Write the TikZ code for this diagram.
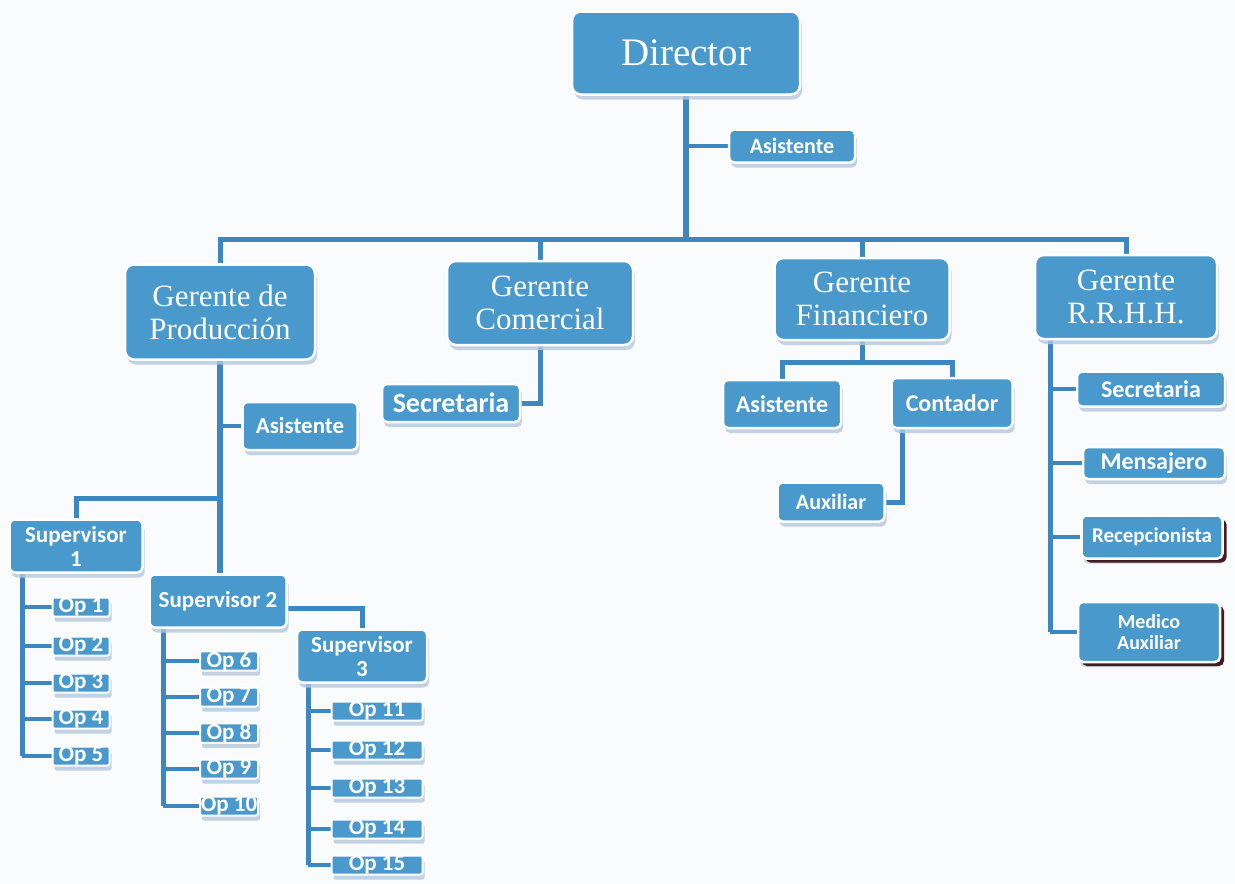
\documentclass[tikz,border=0pt]{standalone}
\usepackage{fontspec}
\setmainfont{Liberation Serif}
\newfontfamily\carl{Carlito}
\usetikzlibrary{shadows,backgrounds,calc}
\definecolor{boxblue}{RGB}{74,153,205}
\definecolor{lineblue}{RGB}{62,134,192}
\definecolor{shadecol}{RGB}{180,200,220}
\definecolor{darksh}{RGB}{70,25,35}
\definecolor{bgcol}{RGB}{250,251,253}
\tikzset{
 box/.style={fill=boxblue, draw=white, line width=2.5pt, text=white, align=center, inner sep=0pt,
   drop shadow={shadow xshift=2pt, shadow yshift=-5pt, fill=shadecol, opacity=0.8}},
 big/.style={box, rounded corners=9pt, font=\fontsize{31}{33}\selectfont},
 small/.style={box, rounded corners=5pt, font=\carl\bfseries\fontsize{23}{24}\selectfont},
 opbox/.style={box, rounded corners=2pt, line width=2pt, font=\carl\bfseries\fontsize{23}{23}\selectfont},
 darkbox/.style={small, drop shadow={shadow xshift=4pt, shadow yshift=-4pt, fill=darksh, opacity=1}},
 conn/.style={draw=lineblue, line width=5pt},
 trunk/.style={draw=lineblue, line width=6.5pt},
 thinconn/.style={draw=lineblue, line width=3.5pt},
}
\begin{document}
\begin{tikzpicture}[x=1pt,y=-1pt]
\useasboundingbox (0,0) rectangle (1235,884);
% top
\node[big, minimum width=228pt, minimum height=83pt, font=\fontsize{39}{40}\selectfont] (dir) at (686,53) {Director};
\node[small, minimum width=126pt, minimum height=33pt, font=\carl\bfseries\fontsize{22}{22}\selectfont] (at) at (792,146) {Asistente};
% managers
\node[big, minimum width=190pt, minimum height=95pt] (gp) at (220,312) {Gerente de\\Producción};
\node[big, minimum width=186pt, minimum height=84pt] (gc) at (540,303) {Gerente\\Comercial};
\node[big, minimum width=175pt, minimum height=82pt] (gf) at (862,299) {Gerente\\Financiero};
\node[big, minimum width=182pt, minimum height=84pt] (gr) at (1126,297) {Gerente\\R.R.H.H.};
% production
\node[small, minimum width=115pt, minimum height=48pt] (ap) at (300,426) {Asistente};
\node[small, minimum width=133pt, minimum height=53pt] (s1) at (76,546) {Supervisor\\1};
\node[small, minimum width=137pt, minimum height=53pt] (s2) at (218,601) {Supervisor 2};
\node[small, minimum width=130pt, minimum height=53pt] (s3) at (362,656) {Supervisor\\3};
\foreach \n/\y in {1/607,2/646,3/683,4/719,5/756}
  \node[opbox, minimum width=57pt, minimum height=19pt] (o\n) at (81,\y) {Op \n};
\foreach \n/\y in {6/661,7/697,8/733,9/769,10/806}
  \node[opbox, minimum width=58pt, minimum height=19pt] (o\n) at (229,\y) {Op \n};
\foreach \n/\y in {11/711,12/750,13/788,14/829,15/865}
  \node[opbox, minimum width=91pt, minimum height=19pt] (o\n) at (377,\y) {Op \n};
% commercial
\node[small, minimum width=138pt, minimum height=38pt, font=\carl\bfseries\fontsize{28}{28}\selectfont] (sc) at (451,403) {Secretaria};
% finance
\node[small, minimum width=118pt, minimum height=48pt, font=\carl\bfseries\fontsize{24}{24}\selectfont] (af) at (782,404) {Asistente};
\node[small, minimum width=121pt, minimum height=50pt, font=\carl\bfseries\fontsize{24}{24}\selectfont] (co) at (952,403) {Contador};
\node[small, minimum width=107pt, minimum height=39pt, font=\carl\bfseries\fontsize{22}{22}\selectfont] (ax) at (831,502) {Auxiliar};
% HR
\node[small, minimum width=148pt, minimum height=35pt, font=\carl\bfseries\fontsize{24}{24}\selectfont] (rs) at (1151,389) {Secretaria};
\node[small, minimum width=142pt, minimum height=32pt, font=\carl\bfseries\fontsize{24}{24}\selectfont] (rm) at (1154,463) {Mensajero};
\node[darkbox, minimum width=141pt, minimum height=43pt, font=\carl\bfseries\fontsize{21}{21}\selectfont] (rr) at (1152,537) {Recepcionista};
\node[darkbox, minimum width=142pt, minimum height=60pt, font=\carl\bfseries\fontsize{20}{21}\selectfont] (rd) at (1149,632) {Medico\\Auxiliar};
% connectors
\begin{pgfonlayer}{background}
\fill[bgcol] (0,0) rectangle (1235,884);
\coordinate (bar) at (0,239);
\draw[trunk] (dir.south) -- (dir.south |- bar);
\draw[conn] (gp.north) -- (gp.north |- bar) -- (gr.north |- bar) -- (gr.north);
\draw[conn] (gc.north |- bar) -- (gc.north);
\draw[conn] (gf.north |- bar) -- (gf.north);
\draw[thinconn] (dir.south |- at.west) -- (at.west);
% production
\draw[trunk] (gp.south) -- (gp.south |- s2.north);
\draw[thinconn] (gp.south |- ap.west) -- (ap.west);
\coordinate (j1) at (220,498);
\draw[conn] (j1) -| (s1.north);
\coordinate (v1) at (22,573);
\coordinate (v2) at (163,628);
\coordinate (v3) at (308,683);
\draw[conn] (v1) -- (v1 |- o5.west);
\draw[conn] (v2) -- (v2 |- o10.west);
\draw[conn] (v3) -- (v3 |- o15.west);
\foreach \n in {1,...,5} \draw[thinconn] (v1 |- o\n.west) -- (o\n.west);
\foreach \n in {6,...,10} \draw[thinconn] (v2 |- o\n.west) -- (o\n.west);
\foreach \n in {11,...,15} \draw[thinconn] (v3 |- o\n.west) -- (o\n.west);
\draw[conn] ([yshift=-7pt]s2.east) -| (s3.north);
% commercial
\draw[conn] (gc.south) |- (sc.east);
% finance
\coordinate (fb) at (862,362);
\draw[conn] (gf.south) -- (fb);
\draw[conn] (af.north) |- (fb) -| (co.north);
\draw[conn] ([xshift=-50pt]co.south) |- (ax.east);
% HR
\coordinate (rv) at (1050,340);
\draw[conn] (rv) -- (rv |- rd.west);
\foreach \n in {rs,rm,rr,rd} \draw[thinconn] (rv |- \n.west) -- (\n.west);
\end{pgfonlayer}
\end{tikzpicture}
\end{document}
